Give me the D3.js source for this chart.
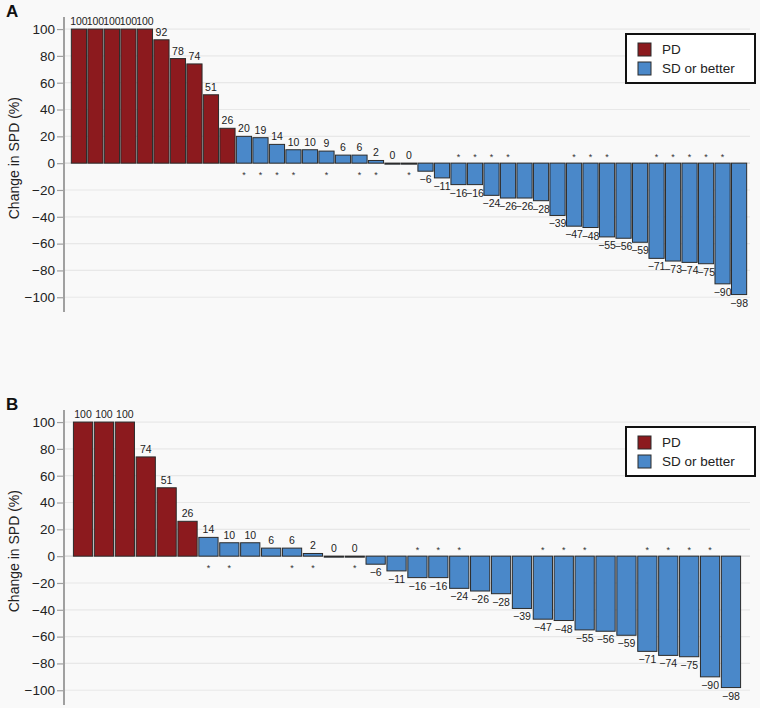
<!DOCTYPE html>
<html>
<head>
<meta charset="utf-8">
<script src="https://cdn.jsdelivr.net/npm/d3@7"></script>
<style>
  body { margin: 0; background: #f9f9f9; }
  svg { display: block; font-family: "Liberation Sans", Arial, Helvetica, sans-serif; }
</style>
</head>
<body>
<div id="chart"></div>
<script>
// panel A: best change in SPD per patient, sorted
const valuesA = [100, 100, 100, 100, 100, 92, 78, 74, 51, 26,
  20, 19, 14, 10, 10, 9, 6, 6, 2, 0, 0, -6, -11, -16, -16, -24, -26, -26, -28,
  -39, -47, -48, -55, -56, -59, -71, -73, -74, -75, -90, -98];
const pdCountA = 10;
const starsA = [0, 0, 0, 0, 0, 0, 0, 0, 0, 0,
  1, 1, 1, 1, 0, 1, 0, 1, 1, 0, 1, 0, 0, 1, 1, 1, 1, 0, 0,
  0, 1, 1, 1, 0, 0, 1, 1, 1, 1, 1, 0];

// panel B
const valuesB = [100, 100, 100, 74, 51, 26,
  14, 10, 10, 6, 6, 2, 0, 0, -6, -11, -16, -16, -24, -26, -28,
  -39, -47, -48, -55, -56, -59, -71, -74, -75, -90, -98];
const pdCountB = 6;
const starsB = [0, 0, 0, 0, 0, 0,
  1, 1, 0, 0, 1, 1, 0, 1, 0, 0, 1, 1, 1, 0, 0,
  0, 1, 1, 1, 0, 0, 1, 1, 1, 1, 0];

const categories = ["PD", "SD or better"];
const yTicks = [-100, -80, -60, -40, -20, 0, 20, 40, 60, 80, 100];
const colors = { "PD": "#8c1a1e", "SD or better": "#4a88c9" };

const width = 760, height = 708;
const svg = d3.select("#chart").append("svg")
  .attr("width", width)
  .attr("height", height);

const fmt = v => v < 0 ? "\u2212" + Math.abs(v) : String(v);

function panel(letter, values, pdCount, stars, top, xRange) {
  const g = svg.append("g").attr("transform", `translate(0,${top})`);
  const axisX = 64;

  const y = d3.scaleLinear().domain([-111, 109]).range([295, 0]);
  const x = d3.scaleBand()
    .domain(d3.range(values.length))
    .range(xRange)
    .paddingInner(0.08)
    .paddingOuter(0.02);

  // gridlines
  g.append("g")
    .selectAll("line")
    .data(yTicks)
    .join("line")
      .attr("x1", axisX)
      .attr("x2", 750)
      .attr("y1", d => y(d))
      .attr("y2", d => y(d))
      .attr("stroke", d => d === 0 ? "#d4d4d4" : "#e8e8e8")
      .attr("stroke-width", 1.2);

  // axis
  const axis = g.append("g")
    .attr("transform", `translate(${axisX},0)`)
    .call(d3.axisLeft(y).tickValues(yTicks).tickFormat(fmt).tickSize(7).tickPadding(2));
  axis.select(".domain").attr("stroke", "#a0a0a0").attr("stroke-width", 2)
    .attr("d", `M0,0V295`);
  axis.selectAll(".tick line").attr("stroke", "#a0a0a0").attr("stroke-width", 1.2);
  axis.selectAll(".tick text").attr("font-size", 13.5).attr("fill", "#222")
    .attr("font-family", "Liberation Sans, Arial, sans-serif");

  const status = (d, i) => i < pdCount ? "PD" : "SD or better";

  // bars
  g.append("g")
    .selectAll("rect")
    .data(values)
    .join("rect")
      .attr("x", (d, i) => x(i))
      .attr("width", x.bandwidth())
      .attr("y", d => d >= 0 ? y(d) : y(0))
      .attr("height", d => Math.max(Math.abs(y(d) - y(0)), 1))
      .attr("fill", (d, i) => colors[status(d, i)])
      .attr("stroke", "#2b2b2b")
      .attr("stroke-width", 1);

  // value labels
  g.append("g")
    .attr("font-size", 10.5)
    .attr("fill", "#222")
    .attr("text-anchor", "middle")
    .selectAll("text")
    .data(values)
    .join("text")
      .attr("x", (d, i) => x(i) + x.bandwidth() / 2)
      .attr("y", d => d >= 0 ? y(d) - 4 : y(d) + 12)
      .text(fmt);

  // asterisks
  g.append("g")
    .attr("font-size", 9)
    .attr("fill", "#333")
    .attr("text-anchor", "middle")
    .selectAll("text")
    .data(values.map((v, i) => ({ v, i })).filter(d => stars[d.i]))
    .join("text")
      .attr("x", d => x(d.i) + x.bandwidth() / 2)
      .attr("y", d => d.v >= 0 ? y(0) + 15 : y(0) - 3)
      .text("*");

  // y label
  g.append("text")
    .attr("transform", `translate(19,${y(0) - 5}) rotate(-90)`)
    .attr("text-anchor", "middle")
    .attr("font-size", 14)
    .attr("fill", "#222")
    .text("Change in SPD (%)");

  // panel letter
  g.append("text")
    .attr("x", 6)
    .attr("y", 0)
    .attr("font-size", 17)
    .attr("font-weight", "bold")
    .attr("fill", "#111")
    .text(letter);

  // legend
  const lg = g.append("g").attr("transform", "translate(626,17)");
  lg.append("rect")
    .attr("width", 129)
    .attr("height", 49)
    .attr("fill", "#fff")
    .attr("stroke", "#111")
    .attr("stroke-width", 2);
  const item = lg.selectAll("g.item")
    .data(categories)
    .join("g")
      .attr("class", "item")
      .attr("transform", (d, i) => `translate(12,${9 + i * 19})`);
  item.append("rect")
    .attr("width", 13)
    .attr("height", 13)
    .attr("fill", d => colors[d])
    .attr("stroke", "#2b2b2b")
    .attr("stroke-width", 1);
  item.append("text")
    .attr("x", 24)
    .attr("y", 11)
    .attr("font-size", 13.5)
    .attr("fill", "#222")
    .text(d => d);
}

panel("A", valuesA, pdCountA, starsA, 17, [71, 747]);
panel("B", valuesB, pdCountB, starsB, 410, [73, 741]);
</script>
</body>
</html>
